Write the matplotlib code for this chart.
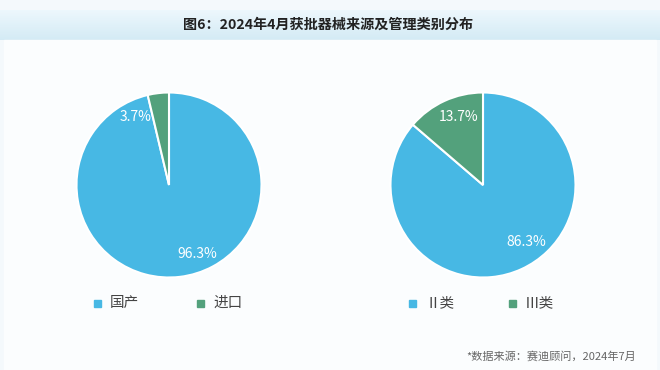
import matplotlib.pyplot as plt
import numpy as np

plt.rcParams['font.family'] = ['Noto Sans CJK SC', 'DejaVu Sans']

#%% Data

title = '图6：2024年4月获批器械来源及管理类别分布'
source = '*数据来源：赛迪顾问，2024年7月'

origin_labels = ['国产', '进口']
origin_values = [96.3, 3.7]

class_labels = ['Ⅱ类', 'Ⅲ类']
class_values = [86.3, 13.7]

colors = ['#47b8e4', '#53a17c']

#%% Figure

fig = plt.figure(figsize=(6.6, 3.7), dpi=100)
fig.patch.set_facecolor('#f4f9fc')

# background: title band + panel
bg = fig.add_axes([0, 0, 1, 1])
bg.set_xlim(0, 660)
bg.set_ylim(370, 0)
bg.axis('off')
grad = np.linspace(0, 1, 256).reshape(-1, 1)
band = np.ones((256, 1, 3))
top = np.array([0.93, 0.97, 0.99])
bot = np.array([0.83, 0.92, 0.96])
band[:, 0, :] = top + (bot - top) * grad
bg.imshow(band, extent=[0, 660, 40, 10], aspect='auto', zorder=0)
bg.add_patch(plt.Rectangle((4, 40), 652, 330, color='#fbfdfe', zorder=0))
bg.text(328, 25, title, ha='center', va='center', fontsize=10.2,
        fontweight='bold', color='#222222')
bg.text(636, 356, source, ha='right', va='center', fontsize=8, color='#666666')


def draw_pie(rect, values, pct_pos):
    ax = fig.add_axes(rect)
    ax.pie(values, colors=colors, startangle=90, counterclock=False,
           wedgeprops=dict(edgecolor='white', linewidth=1.5))
    for v, (x, y) in zip(values, pct_pos):
        ax.text(x, y, '{:.1f}%'.format(v), ha='center', va='center',
                fontsize=10, color='white')
    ax.set_xlim(-1, 1)
    ax.set_ylim(-1, 1)
    ax.set_aspect('equal')
    return ax


r = 92.5
# left pie centre (169, 185), right pie centre (483, 185)
draw_pie([(169 - r) / 660, (370 - 185 - r) / 370, 2 * r / 660, 2 * r / 370],
         origin_values, [(0.31, -0.75), (-0.36, 0.74)])
draw_pie([(483 - r) / 660, (370 - 185 - r) / 370, 2 * r / 660, 2 * r / 370],
         class_values, [(0.47, -0.62), (-0.26, 0.74)])

# legends
legend_items = [(97, origin_labels[0], colors[0]), (200, origin_labels[1], colors[1]),
                (412, class_labels[0], colors[0]), (512, class_labels[1], colors[1])]
for x, lab, c in legend_items:
    bg.add_patch(plt.Rectangle((x - 3.5, 299.5), 7, 7, color=c, zorder=2))
    bg.text(x + 13, 303, lab, ha='left', va='center', fontsize=10.5, color='#444444')

fig.savefig('out.png', dpi=100, facecolor=fig.get_facecolor())
